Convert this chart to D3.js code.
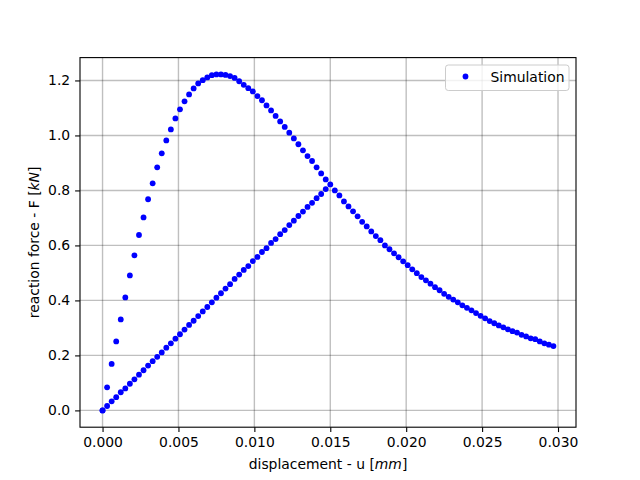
<!DOCTYPE html>
<html>
<head>
<meta charset="utf-8">
<script src="https://cdn.jsdelivr.net/npm/d3@7"></script>
<style>
  body { margin: 0; background: #fff; }
  text { font-family: "DejaVu Sans", sans-serif; font-size: 13.9px; fill: #000; }
</style>
</head>
<body>
<svg id="chart" width="640" height="480"></svg>
<script>
// loading branch: displacement u [mm] and reaction force F [kN]
const uLoad = [
  0.0000, 0.0003, 0.0006, 0.0009, 0.0012, 0.0015, 0.0018, 0.0021, 0.0024, 0.0027,
  0.0030, 0.0033, 0.0036, 0.0039, 0.0042, 0.0045, 0.0048, 0.0051, 0.0054, 0.0057,
  0.0060, 0.0063, 0.0066, 0.0069, 0.0072, 0.0075, 0.0078, 0.0081, 0.0084, 0.0087,
  0.0090, 0.0093, 0.0096, 0.0099, 0.0102, 0.0105, 0.0108, 0.0111, 0.0114, 0.0117,
  0.0120, 0.0123, 0.0126, 0.0129, 0.0132, 0.0135, 0.0138, 0.0141, 0.0144, 0.0147,
  0.0150, 0.0153, 0.0156, 0.0159, 0.0162, 0.0165, 0.0168, 0.0171, 0.0174, 0.0177,
  0.0180, 0.0183, 0.0186, 0.0189, 0.0192, 0.0195, 0.0198, 0.0201, 0.0204, 0.0207,
  0.0210, 0.0213, 0.0216, 0.0219, 0.0222, 0.0225, 0.0228, 0.0231, 0.0234, 0.0237,
  0.0240, 0.0243, 0.0246, 0.0249, 0.0252, 0.0255, 0.0258, 0.0261, 0.0264, 0.0267,
  0.0270, 0.0273, 0.0276, 0.0279, 0.0282, 0.0285, 0.0288, 0.0291, 0.0294, 0.0297
];
const fLoad = [
  0.000, 0.084, 0.169, 0.251, 0.331, 0.411, 0.491, 0.564, 0.638, 0.702,
  0.768, 0.826, 0.884, 0.935, 0.982, 1.022, 1.062, 1.095, 1.124, 1.149,
  1.171, 1.189, 1.201, 1.211, 1.219, 1.222, 1.222, 1.220, 1.216, 1.209,
  1.197, 1.184, 1.172, 1.160, 1.143, 1.128, 1.109, 1.091, 1.071, 1.051,
  1.031, 1.010, 0.989, 0.968, 0.946, 0.925, 0.907, 0.884, 0.862, 0.840,
  0.822, 0.800, 0.782, 0.760, 0.742, 0.724, 0.706, 0.686, 0.669, 0.651,
  0.634, 0.619, 0.600, 0.586, 0.571, 0.557, 0.542, 0.528, 0.513, 0.499,
  0.485, 0.473, 0.461, 0.448, 0.437, 0.424, 0.413, 0.403, 0.393, 0.382,
  0.373, 0.364, 0.354, 0.344, 0.335, 0.325, 0.317, 0.309, 0.302, 0.295,
  0.288, 0.283, 0.275, 0.269, 0.262, 0.259, 0.251, 0.244, 0.239, 0.234
];
// unloading / reloading branch
const uUnload = [
  0.0000, 0.0003, 0.0006, 0.0009, 0.0012, 0.0015, 0.0018, 0.0021, 0.0024, 0.0027,
  0.0030, 0.0033, 0.0036, 0.0039, 0.0042, 0.0045, 0.0048, 0.0051, 0.0054, 0.0057,
  0.0060, 0.0063, 0.0066, 0.0069, 0.0072, 0.0075, 0.0078, 0.0081, 0.0084, 0.0087,
  0.0090, 0.0093, 0.0096, 0.0099, 0.0102, 0.0105, 0.0108, 0.0111, 0.0114, 0.0117,
  0.0120, 0.0123, 0.0126, 0.0129, 0.0132, 0.0135, 0.0138, 0.0141, 0.0144, 0.0147
];
const fUnload = [
  0.000, 0.016, 0.033, 0.048, 0.066, 0.080, 0.097, 0.113, 0.130, 0.146,
  0.163, 0.179, 0.195, 0.211, 0.228, 0.244, 0.261, 0.277, 0.294, 0.311,
  0.326, 0.343, 0.360, 0.376, 0.393, 0.410, 0.426, 0.443, 0.459, 0.478,
  0.494, 0.511, 0.525, 0.543, 0.558, 0.576, 0.590, 0.609, 0.623, 0.641,
  0.656, 0.674, 0.690, 0.707, 0.723, 0.740, 0.755, 0.772, 0.787, 0.805
];
const xTicks = [0, 0.005, 0.01, 0.015, 0.02, 0.025, 0.03];
const yTicks = [0, 0.2, 0.4, 0.6, 0.8, 1.0, 1.2];

const margin = {top: 57.6, right: 64, bottom: 52.8, left: 80};
const W = 640, H = 480;
const width = W - margin.left - margin.right;
const height = H - margin.top - margin.bottom;

const points = uLoad.map((u, i) => ({u: u, f: fLoad[i]}))
  .concat(uUnload.map((u, i) => ({u: u, f: fUnload[i]})));

// matplotlib style 5% padding around the data
const xExt = d3.extent(points, d => d.u), yExt = d3.extent(points, d => d.f);
const xPad = (xExt[1] - xExt[0]) * 0.05, yPad = (yExt[1] - yExt[0]) * 0.05;

const x = d3.scaleLinear().domain([xExt[0] - xPad, xExt[1] + xPad]).range([0, width]);
const y = d3.scaleLinear().domain([yExt[0] - yPad, yExt[1] + yPad]).range([height, 0]);

const svg = d3.select('#chart');
const g = svg.append('g').attr('transform', `translate(${margin.left},${margin.top})`);

// grid
g.append('g').selectAll('line').data(xTicks).enter().append('line')
  .attr('x1', d => x(d)).attr('x2', d => x(d))
  .attr('y1', 0).attr('y2', height)
  .attr('stroke', '#000').attr('stroke-opacity', 0.25).attr('stroke-width', 1.4);
g.append('g').selectAll('line').data(yTicks).enter().append('line')
  .attr('y1', d => y(d)).attr('y2', d => y(d))
  .attr('x1', 0).attr('x2', width)
  .attr('stroke', '#000').attr('stroke-opacity', 0.25).attr('stroke-width', 1.4);

// dots
g.append('g').selectAll('circle').data(points).enter().append('circle')
  .attr('cx', d => x(d.u))
  .attr('cy', d => y(d.f))
  .attr('r', 2.9)
  .attr('fill', '#0000ff');

// axes
const xAxis = g.append('g')
  .attr('transform', `translate(0,${height})`)
  .call(d3.axisBottom(x).tickValues(xTicks).tickFormat(d3.format('.3f')).tickSizeOuter(0).tickSize(4.9).tickPadding(4.9));
const yAxis = g.append('g')
  .call(d3.axisLeft(y).tickValues(yTicks).tickFormat(d3.format('.1f')).tickSizeOuter(0).tickSize(4.9).tickPadding(4.9));
[xAxis, yAxis].forEach(a => {
  a.select('.domain').remove();
  a.selectAll('.tick line').attr('stroke', '#000').attr('stroke-width', 1.1);
  a.selectAll('.tick text').style('font-size', '13.9px').style('font-family', '"DejaVu Sans", sans-serif');
});

// frame
g.append('rect')
  .attr('width', width).attr('height', height)
  .attr('fill', 'none').attr('stroke', '#000').attr('stroke-width', 1.1);

// axis labels
const xl = svg.append('text')
  .attr('x', margin.left + width / 2).attr('y', 469)
  .attr('text-anchor', 'middle');
xl.append('tspan').text('displacement - u [');
xl.append('tspan').attr('font-style', 'italic').text('mm');
xl.append('tspan').text(']');

const yl = svg.append('text')
  .attr('transform', `translate(39,${margin.top + height / 2}) rotate(-90)`)
  .attr('text-anchor', 'middle');
yl.append('tspan').text('reaction force - F [');
yl.append('tspan').attr('font-style', 'italic').text('kN');
yl.append('tspan').text(']');

// legend
const lg = svg.append('g').attr('transform', 'translate(445.5,65)');
lg.append('rect')
  .attr('width', 123.5).attr('height', 25.5)
  .attr('rx', 2.8).attr('ry', 2.8)
  .attr('fill', '#fff').attr('fill-opacity', 0.8)
  .attr('stroke', '#ccc').attr('stroke-width', 1);
lg.append('circle').attr('cx', 20).attr('cy', 11.5).attr('r', 2.9).attr('fill', '#0000ff');
lg.append('text').attr('x', 45).attr('y', 16.5).text('Simulation');
</script>
</body>
</html>
